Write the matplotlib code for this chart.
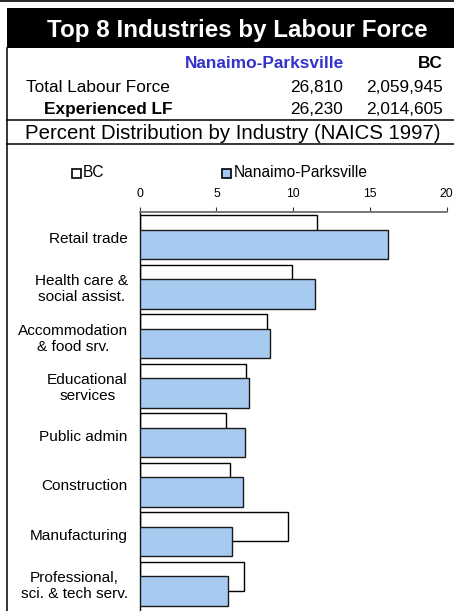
import matplotlib
matplotlib.use("Agg")
import matplotlib.pyplot as plt
from matplotlib.patches import Rectangle
from matplotlib.lines import Line2D
import numpy as np

plt.rcParams['font.family'] = ['Liberation Sans', 'DejaVu Sans']

# ---- data ----
categories = ["Retail trade", "Health care &\nsocial assist.", "Accommodation\n& food srv.",
              "Educational\nservices", "Public admin", "Construction", "Manufacturing",
              "Professional,\nsci. & tech serv."]
bc_values = [11.55, 9.93, 8.28, 6.94, 5.60, 5.88, 9.63, 6.77]
np_values = [16.15, 11.39, 8.48, 7.13, 6.83, 6.74, 6.03, 5.77]
series_names = ["BC", "Nanaimo-Parksville"]
xticks = [0, 5, 10, 15, 20]
title = "Top 8 Industries by Labour Force"
col_headers = ["Nanaimo-Parksville", "BC"]
row_labels = ["Total Labour Force", "Experienced LF"]
row_np = ["26,810", "26,230"]
row_bc = ["2,059,945", "2,014,605"]
subtitle = "Percent Distribution by Industry (NAICS 1997)"

W, H = 454, 611
fig = plt.figure(figsize=(W / 100, H / 100), dpi=100)

def fx(x):
    return x / W

def fy(y):
    return 1 - y / H

BLUE_TXT = "#3333CC"
BAR_BLUE = "#A6CAF0"

# ---- frame / header ----
fig.add_artist(Line2D([fx(0), fx(454)], [fy(0.7), fy(0.7)], color="black", lw=1.2))
fig.add_artist(Rectangle((fx(7), fy(48)), fx(454) - fx(7), fy(8) - fy(48),
                         transform=fig.transFigure, facecolor="black", edgecolor="none"))
fig.add_artist(Line2D([fx(7), fx(7)], [fy(48), fy(611)], color="black", lw=1.1))
fig.add_artist(Line2D([fx(7), fx(454)], [fy(120), fy(120)], color="black", lw=1.1))
fig.add_artist(Line2D([fx(7), fx(454)], [fy(144), fy(144)], color="black", lw=1.1))

fig.text(fx(237.5), fy(36.7), title, color="white", fontsize=17.4, fontweight="bold",
         ha="center", va="baseline")
fig.text(fx(344), fy(68.3), col_headers[0], color=BLUE_TXT, fontsize=12.4,
         fontweight="bold", ha="right", va="baseline")
fig.text(fx(442.7), fy(68.3), col_headers[1], color="black", fontsize=12.4,
         fontweight="bold", ha="right", va="baseline")
row_base = [91.7, 114.3]
row_x = [26, 44.3]
row_w = ["normal", "bold"]
for i in range(2):
    fig.text(fx(row_x[i]), fy(row_base[i]), row_labels[i], fontsize=12.4,
             fontweight=row_w[i], ha="left", va="baseline")
    fig.text(fx(343.3), fy(row_base[i]), row_np[i], fontsize=12.4, ha="right", va="baseline")
    fig.text(fx(442.7), fy(row_base[i]), row_bc[i], fontsize=12.4, ha="right", va="baseline")
fig.text(fx(25), fy(139.3), subtitle, fontsize=14.7, ha="left", va="baseline")

# ---- chart ----
ax_left, ax_right, ax_top, ax_bot = 139.7, 446.7, 212.3, 611
ppu = (608.3 - ax_top) / 8
ax = fig.add_axes([fx(ax_left), fy(ax_bot), fx(ax_right) - fx(ax_left), fy(ax_top) - fy(ax_bot)])
ax.set_facecolor("none")

y = np.arange(len(categories))
h = 0.592
off = 0.148
ax.barh(y - off, bc_values, height=h, color="white", edgecolor="black", linewidth=1.0, zorder=2)
ax.barh(y + off, np_values, height=h, color=BAR_BLUE, edgecolor="#1a1a1a", linewidth=1.0, zorder=3)

ax.set_xlim(0, 20)
ax.set_ylim(7.5 + (ax_bot - 608.3) / ppu, -0.5)
ax.set_xticks(xticks)
ax.set_xticklabels([str(t) for t in xticks])
ax.xaxis.tick_top()
ax.tick_params(axis="x", direction="out", length=3.5, width=0.8, color="#333333",
               labelsize=8.7, pad=5.5)
ax.set_yticks(y)
ax.set_yticklabels(categories)
ax.tick_params(axis="y", length=0, labelsize=11.1, pad=8.6)
for lab in ax.get_yticklabels():
    lab.set_multialignment("center")
for s in ["bottom", "right"]:
    ax.spines[s].set_visible(False)
ax.spines["top"].set_color("#777777")
ax.spines["top"].set_linewidth(1.4)
ax.spines["left"].set_color("black")
ax.spines["left"].set_linewidth(1.0)

# ---- legend ----
leg_y = 173
fig.add_artist(Rectangle((fx(72), fy(leg_y + 4.5)), fx(9), fy(0) - fy(8.5),
                         transform=fig.transFigure, facecolor="white", edgecolor="black", lw=1.2))
fig.text(fx(83), fy(leg_y), series_names[0], fontsize=11.2, ha="left", va="center")
fig.add_artist(Rectangle((fx(222), fy(leg_y + 4.5)), fx(9), fy(0) - fy(8.5),
                         transform=fig.transFigure, facecolor=BAR_BLUE, edgecolor="black", lw=1.2))
fig.text(fx(234), fy(leg_y), series_names[1], fontsize=11.2, ha="left", va="center")

fig.savefig("out.png", dpi=100)
